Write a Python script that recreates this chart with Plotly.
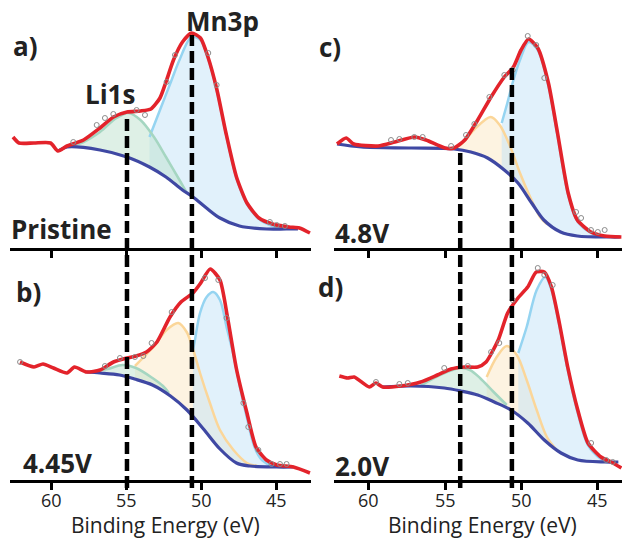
import plotly.graph_objects as go

W, H = 622, 539

# ---------------- data (binding energy eV, intensity a.u.) ----------------
# Panel a) Pristine
a_env_e = [62.6, 62.2, 61.2, 60.1, 59.6, 59.0, 57.9, 56.8, 55.9, 55.0, 54.1, 53.4, 52.8, 52.4, 51.9, 51.3, 50.7, 50.1, 49.6, 49.0, 48.4, 47.7, 47.0, 46.2, 45.3, 44.2, 43.5, 42.8]
a_env_i = [111, 105, 105, 105, 97, 102, 108, 120, 131, 136, 137, 139, 150, 166, 188, 206, 215, 210, 191, 158, 115, 71, 45, 30, 24, 21, 20, 15]
a_bg_e = [59.6, 59.0, 56.8, 55.0, 53.5, 52.4, 51.3, 50.6, 49.7, 48.8, 47.5, 45.7, 44.4, 43.6]
a_bg_i = [97, 101, 98, 91, 81, 71, 58, 51, 40, 30, 22, 19, 19, 19]
a_li_e = [59.0, 57.9, 56.8, 55.7, 54.9, 54.1, 53.2, 52.4, 51.5, 51.0]
a_li_i = [101, 106, 116, 130, 135, 128, 111, 91, 68, 55]
a_mn_e = [53.5, 52.8, 52.1, 51.5, 50.7, 50.1, 49.6, 49.0, 48.4, 47.7, 47.0, 46.2, 45.3, 44.4]
a_mn_i = [111, 138, 165, 188, 211, 208, 190, 157, 114, 70, 44, 29, 22, 19]
a_pts_e = [58.58, 57.02, 56.47, 55.91, 54.36, 53.8, 52.36, 51.8, 49.58, 49.02, 45.47, 45.02, 44.47]
a_pts_i = [106, 123, 130, 134, 138, 133, 166, 193, 195, 163, 26, 23, 22]

# Panel b) 4.45V
b_env_e = [62.13, 61.2, 60.6, 59.9, 59.0, 58.5, 57.7, 56.8, 55.9, 55.0, 54.4, 53.7, 53.0, 52.13, 51.4, 50.6, 50.13, 49.45, 48.8, 48.3, 47.7, 47.0, 46.4, 45.7, 45.0, 43.9, 42.8]
b_env_i = [118, 113, 116, 112, 107, 113, 108, 110, 118, 122, 124, 128, 138, 163, 178, 187, 196, 211, 200, 163, 111, 67, 33, 20, 15, 13, 7]
b_bg_e = [57.7, 56.8, 55.5, 54.5, 53.3, 52.1, 51.0, 49.9, 48.8, 47.7, 46.8, 45.0, 43.9]
b_bg_i = [108, 107, 105, 101, 95, 84, 70, 51, 31, 17, 14, 13, 13]
b_li_e = [57.5, 56.3, 55.3, 54.4, 53.3, 52.6, 52.2]
b_li_i = [108, 111, 115, 112, 102, 94, 87]
b_yl_e = [54.47, 53.25, 52.36, 51.58, 51.02, 50.58, 50.13, 49.47, 48.8, 47.9, 47.0, 46.3]
b_yl_i = [114, 133, 150, 157, 148, 130, 107, 77, 50, 30, 17, 14]
b_mn_e = [50.6, 50.47, 50.13, 49.69, 49.25, 48.8, 48.36, 47.9, 47.4, 47.0, 46.5, 46.0, 45.3, 44.5]
b_mn_i = [130, 140, 167, 183, 188, 180, 153, 125, 88, 62, 33, 20, 14, 13]
b_pts_e = [62.13, 56.47, 55.47, 54.47, 53.91, 53.36, 52.02, 49.8, 48.91, 48.36, 47.24, 46.91, 46.24, 45.36, 44.8, 44.36]
b_pts_i = [118, 114, 122, 123, 124, 137, 168, 202, 200, 162, 77, 53, 30, 16, 16, 16]

# Panel c) 4.8V
c_env_e = [62.1, 61.5, 61.0, 59.4, 58.3, 57.0, 56.25, 55.0, 54.4, 53.7, 52.85, 51.97, 51.1, 50.5, 50.0, 49.5, 48.9, 48.2, 47.6, 46.9, 46.3, 45.4, 44.5, 43.4]
c_env_i = [104, 110, 104, 102, 106, 111, 108, 100, 100, 108, 128, 151, 171, 181, 198, 209, 200, 165, 115, 55, 28, 16, 12, 11]
c_bg_e = [62.1, 60.5, 57.2, 54.4, 53.3, 52.2, 51.1, 50.2, 49.3, 48.5, 47.4, 46.3, 44.1, 43.5]
c_bg_i = [104, 101, 100, 99, 96, 90, 78, 65, 45, 28, 16, 12, 11, 11]
c_yl_e = [54.6, 54.0, 53.1, 52.0, 51.4, 50.7, 50.07, 49.4, 48.75, 48.3]
c_yl_i = [99, 103, 118, 131, 123, 101, 75, 51, 31, 24]
c_mn_e = [51.27, 50.9, 50.5, 50.07, 49.5, 48.9, 48.2, 47.6, 46.9, 46.3, 45.4, 44.5]
c_mn_i = [125, 145, 168, 188, 206, 198, 162, 112, 53, 27, 15, 11]
c_pts_e = [58.55, 58.0, 57.02, 56.47, 54.6, 53.62, 53.07, 52.08, 51.1, 50.55, 49.56, 49.0, 48.47, 46.38, 46.05, 45.4, 44.95, 44.5]
c_pts_i = [108, 109, 111, 111, 102, 113, 124, 151, 173, 178, 212, 203, 170, 36, 30, 18, 16, 18]

# Panel d) 2.0V
d_env_e = [61.95, 61.4, 60.97, 59.98, 59.54, 59.1, 57.9, 56.6, 55.5, 54.6, 53.73, 52.85, 52.3, 51.5, 50.88, 50.2, 49.56, 49.0, 48.47, 48.0, 47.48, 46.93, 46.27, 45.6, 44.74, 44.08, 43.4]
d_env_i = [104, 102, 103, 93, 97, 93, 94, 98, 105, 111, 113, 113, 118, 140, 167, 182, 193, 208, 208, 193, 157, 113, 70, 37, 23, 18, 12]
d_bg_e = [59.1, 57.24, 55.05, 53.95, 52.85, 51.76, 50.66, 49.56, 48.47, 47.37, 46.27, 44.5, 43.6]
d_bg_i = [93, 94, 92, 89, 85, 78, 70, 57, 40, 27, 20, 18, 18]
d_li_e = [56.64, 55.33, 54.0, 53.36, 52.7, 51.8, 50.94]
d_li_i = [94, 105, 112, 110, 102, 88, 75]
d_yl_e = [52.26, 51.6, 50.94, 50.28, 49.63, 48.97, 48.3, 47.65]
d_yl_i = [103, 123, 134, 125, 100, 70, 43, 30]
d_mn_e = [50.18, 49.63, 48.97, 48.4, 48.0, 47.48, 46.93, 46.27, 45.6, 44.74, 44.3]
d_mn_i = [127, 153, 190, 203, 190, 154, 110, 67, 35, 21, 18]
d_pts_e = [59.54, 58.0, 57.45, 55.05, 53.5, 51.97, 51.43, 50.55, 48.9, 48.47, 47.92, 45.39, 44.4, 43.97]
d_pts_i = [98, 96, 97, 112, 114, 128, 137, 180, 212, 205, 195, 37, 20, 18]

tick_vals = [60, 55, 50, 45]
tick_text = ["60", "55", "50", "45"]
x_title = "Binding Energy (eV)"
panel_tags = ["a)", "c)", "b)", "d)"]
sample_names = ["Pristine", "4.8V", "4.45V", "2.0V"]
peak_names = ["Li1s", "Mn3p"]
left_marks = [55.0, 50.67]
right_marks = [54.0, 50.6]

# ---------------- styles ----------------
RED = "#e3232b"
BG = "#3f48a3"
C_MN = ("rgba(195,227,248,0.5)", "#95d4f1")
C_LI = ("rgba(190,226,205,0.5)", "#a5d6c1")
C_YL = ("rgba(252,232,196,0.5)", "#fbd699")
FONT = "Open Sans"
TXT = "#222222"


def px(x):
    return x / W


def py(y):
    return 1 - y / H


fig = go.Figure()


def add_panel(xa, ya, env_e, env_i, bg_e, bg_i, comps, pts_e, pts_i):
    sp = dict(shape="spline", smoothing=0.9)
    for e, i, (fc, lc) in comps:
        fig.add_trace(go.Scatter(x=e, y=i, xaxis=xa, yaxis=ya, mode="lines",
                                 line=dict(width=0, color=lc, **sp), fill="tozeroy",
                                 fillcolor=fc, hoverinfo="skip", showlegend=False))
    fig.add_trace(go.Scatter(x=bg_e, y=bg_i, xaxis=xa, yaxis=ya, mode="lines",
                             line=dict(width=0, color="white", **sp), fill="tozeroy",
                             fillcolor="white", hoverinfo="skip", showlegend=False))
    for e, i, (fc, lc) in comps:
        fig.add_trace(go.Scatter(x=e, y=i, xaxis=xa, yaxis=ya, mode="lines",
                                 line=dict(width=2.5, color=lc, **sp), showlegend=False))
    fig.add_trace(go.Scatter(x=bg_e, y=bg_i, xaxis=xa, yaxis=ya, mode="lines",
                             line=dict(width=3.2, color=BG, **sp), showlegend=False))
    fig.add_trace(go.Scatter(x=env_e, y=env_i, xaxis=xa, yaxis=ya, mode="lines",
                             line=dict(width=3.6, color=RED, shape="spline", smoothing=0.6),
                             showlegend=False))
    fig.add_trace(go.Scatter(x=pts_e, y=pts_i, xaxis=xa, yaxis=ya, mode="markers",
                             marker=dict(symbol="circle-open", size=5, color="#8c8c8c",
                                         line=dict(width=1)), showlegend=False))


add_panel("x", "y", a_env_e, a_env_i, a_bg_e, a_bg_i,
          [(a_mn_e, a_mn_i, C_MN), (a_li_e, a_li_i, C_LI)], a_pts_e, a_pts_i)
add_panel("x2", "y2", c_env_e, c_env_i, c_bg_e, c_bg_i,
          [(c_yl_e, c_yl_i, C_YL), (c_mn_e, c_mn_i, C_MN)], c_pts_e, c_pts_i)
add_panel("x3", "y3", b_env_e, b_env_i, b_bg_e, b_bg_i,
          [(b_yl_e, b_yl_i, C_YL), (b_mn_e, b_mn_i, C_MN), (b_li_e, b_li_i, C_LI)], b_pts_e, b_pts_i)
add_panel("x4", "y4", d_env_e, d_env_i, d_bg_e, d_bg_i,
          [(d_yl_e, d_yl_i, C_YL), (d_mn_e, d_mn_i, C_MN), (d_li_e, d_li_i, C_LI)], d_pts_e, d_pts_i)

left_dom = [px(10), px(311)]
right_dom = [px(334), 1.0]
left_rng = [62.8, 42.73]
right_rng = [62.3, 43.36]
top_dom = [py(248), 1.0]
bot_dom = [py(480), py(260)]


def xax(dom, rng, anchor):
    return dict(domain=dom, range=rng, anchor=anchor, showline=True, linecolor="black",
                linewidth=3, ticks="outside", ticklen=7, tickwidth=3, tickcolor="black",
                tickvals=tick_vals, showticklabels=False,
                showgrid=False, zeroline=False)


def yax(dom, top, anchor):
    return dict(domain=dom, range=[0, top], anchor=anchor, visible=False,
                showgrid=False, zeroline=False)


fig.update_layout(
    width=W, height=H, margin=dict(l=0, r=0, t=0, b=0),
    paper_bgcolor="white", plot_bgcolor="white", showlegend=False,
    xaxis=xax(left_dom, left_rng, "y"),
    xaxis2=xax(right_dom, right_rng, "y2"),
    xaxis3=xax(left_dom, left_rng, "y3"),
    xaxis4=xax(right_dom, right_rng, "y4"),
    yaxis=yax(top_dom, 248, "x"),
    yaxis2=yax(top_dom, 248, "x2"),
    yaxis3=yax(bot_dom, 220, "x3"),
    yaxis4=yax(bot_dom, 220, "x4"),
)

# dashed marker lines spanning both panels of each column
dash = dict(color="black", width=4.5, dash="12px,5px")
for xr, e, y0 in [("x", left_marks[0], 115), ("x", left_marks[1], 35),
                  ("x2", right_marks[0], 153), ("x2", right_marks[1], 68)]:
    fig.add_shape(type="line", xref=xr, yref="paper", x0=e, x1=e, y0=py(488), y1=py(y0),
                  line=dash, layer="above")

ann = []


def label(text, x, y, size=26, bold=True):
    ann.append(dict(text=("<b>%s</b>" % text) if bold else text, x=px(x), y=py(y),
                    xref="paper", yref="paper", showarrow=False, xanchor="center",
                    yanchor="middle", font=dict(family=FONT, size=size, color=TXT)))


label(panel_tags[0], 25, 46)
label(panel_tags[1], 330, 47)
label(panel_tags[2], 28, 292)
label(panel_tags[3], 330, 287)
label(sample_names[0], 61, 229)
label(sample_names[1], 362, 233)
label(sample_names[2], 57, 463)
label(sample_names[3], 362, 466)
label(peak_names[0], 110, 94)
label(peak_names[1], 222, 21)
label(x_title, 165, 525, size=21, bold=False)
label(x_title, 482, 525, size=21, bold=False)

# tick labels of the bottom axes, placed through the axes' own scales
for xr in ["x3", "x4"]:
    for v, t in zip(tick_vals, tick_text):
        ann.append(dict(text=t, x=v, y=py(500), xref=xr, yref="paper", showarrow=False,
                        xanchor="center", yanchor="middle",
                        font=dict(family=FONT, size=18, color=TXT)))

fig.update_layout(annotations=ann)

fig.write_html("out.html")
